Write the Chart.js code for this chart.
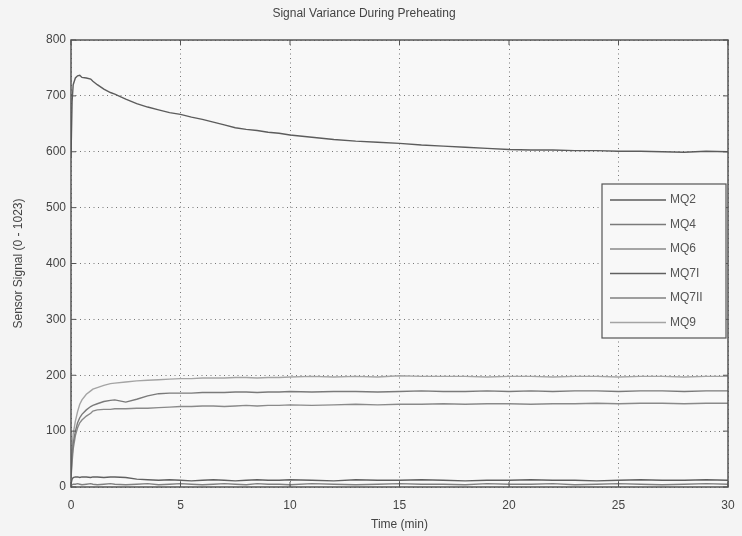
<!DOCTYPE html>
<html><head><meta charset="utf-8">
<script src="https://cdn.jsdelivr.net/npm/chart.js@4"></script>
<style>html,body{margin:0;padding:0;background:#f4f4f4;}#wrap{width:742px;height:536px;}</style>
</head><body><div id="wrap"><canvas id="c" width="742" height="536"></canvas></div>
<script>
const chartTitle = "Signal Variance During Preheating";
const xTitle = "Time (min)";
const yTitle = "Sensor Signal (0 - 1023)";
const seriesNames = ["MQ2","MQ4","MQ6","MQ7I","MQ7II","MQ9"];
const xTicks = [0,5,10,15,20,25,30];
const yTicks = [0,100,200,300,400,500,600,700,800];
const times = [0,0.05,0.1,0.2,0.3,0.4,0.5,0.7,0.9,1.0,1.2,1.5,1.8,2,2.5,3,3.5,4,4.5,5,5.5,6,6.5,7,7.5,8,8.5,9,9.5,10,11,12,13,14,15,16,17,18,19,20,21,22,23,24,25,26,27,28,29,30];
const mq2 = [590,690,720,732,736,737,733,732,730,726,720,712,706,703,694,686,680,675,670,667,662,658,653,648,643,640,638,635,633,630,626,622,619,617,615,612,610,608,606,604,603,603,602,602,601,601,600,599,601,600];
const mq4 = [20,55,78,100,115,124,130,138,144,146,149,153,155,156,152,157,163,167,168,168,168,169,169,169,170,170,169,170,170,171,170,171,171,170,171,172,171,171,172,171,172,171,172,172,171,172,172,171,172,172];
const mq6 = [15,45,68,92,106,115,120,127,132,136,138,139,139,140,140,141,141,142,143,144,144,145,145,144,145,146,145,146,146,147,146,147,148,147,148,148,149,148,149,149,148,149,149,150,149,150,150,149,150,150];
const mq7i = [5,14,17,18,18,17,18,18,17,18,18,17,18,18,17,14,13,12,13,12,11,12,13,12,11,12,13,12,12,13,12,11,13,12,12,13,12,11,12,12,13,12,12,11,12,13,12,12,13,12];
const mq7ii = [2,4,5,5,6,5,4,5,6,5,4,5,6,5,4,5,6,4,5,6,5,4,5,6,5,4,6,5,5,4,6,5,4,5,6,5,5,4,6,5,5,6,4,5,6,5,4,5,6,5];
const mq9 = [30,70,95,118,135,148,156,166,172,175,178,182,185,186,188,190,191,192,193,194,194,195,195,195,196,196,195,196,196,197,198,197,198,197,199,198,198,198,197,198,198,197,198,198,197,198,198,197,198,198];
const seriesValues = [mq2,mq4,mq6,mq7i,mq7ii,mq9];
const seriesColors = ["#5c5c5c","#7a7a7a","#8a8a8a","#606060","#808080","#a4a4a4"];

const FONT = "'Liberation Sans', Arial, sans-serif";

const frame = {
  id:'frame',
  beforeDraw(chart){
    const {ctx, chartArea:a} = chart;
    ctx.save();
    ctx.fillStyle = '#f4f4f4';
    ctx.fillRect(0,0,chart.width,chart.height);
    ctx.fillStyle = '#f8f8f8';
    ctx.fillRect(a.left,a.top,a.right-a.left,a.bottom-a.top);
    ctx.restore();
  },
  afterDatasetsDraw(chart){
    const {ctx, chartArea:a, scales} = chart;
    ctx.save();
    ctx.strokeStyle = '#555';
    ctx.lineWidth = 1.5;
    ctx.strokeRect(a.left,a.top,a.right-a.left,a.bottom-a.top);
    ctx.lineWidth = 1;
    ctx.beginPath();
    scales.x.ticks.forEach(t=>{
      const px = scales.x.getPixelForValue(t.value);
      ctx.moveTo(px,a.bottom); ctx.lineTo(px,a.bottom-5);
      ctx.moveTo(px,a.top); ctx.lineTo(px,a.top+5);
    });
    scales.y.ticks.forEach(t=>{
      const py = scales.y.getPixelForValue(t.value);
      ctx.moveTo(a.left,py); ctx.lineTo(a.left+5,py);
      ctx.moveTo(a.right,py); ctx.lineTo(a.right-5,py);
    });
    ctx.stroke();
    const bx = 602, by = 184, bw = 124, bh = 154;
    ctx.fillStyle = '#f8f8f8';
    ctx.fillRect(bx,by,bw,bh);
    ctx.strokeStyle = '#555';
    ctx.lineWidth = 1.2;
    ctx.strokeRect(bx,by,bw,bh);
    ctx.font = "12px " + FONT;
    ctx.textBaseline = 'middle';
    ctx.textAlign = 'left';
    chart.data.datasets.forEach((ds,i)=>{
      const y = by + 16 + i*24.5;
      ctx.strokeStyle = ds.borderColor;
      ctx.lineWidth = 1.3;
      ctx.beginPath(); ctx.moveTo(bx+8,y); ctx.lineTo(bx+64,y); ctx.stroke();
      ctx.fillStyle = '#555';
      ctx.fillText(ds.label, bx+68, y);
    });
    ctx.restore();
  }
};

new Chart(document.getElementById('c'), {
  type:'line',
  data:{
    datasets: seriesNames.map((n,i)=>({
      label:n,
      data: times.map((t,j)=>({x:t,y:seriesValues[i][j]})),
      borderColor: seriesColors[i],
      borderWidth: 1.4,
      pointRadius:0,
      tension:0,
      fill:false
    }))
  },
  options:{
    responsive:false,
    animation:false,
    layout:{padding:{left:0,right:14,top:0,bottom:0}},
    plugins:{
      legend:{display:false},
      tooltip:{enabled:false},
      title:{display:true,text:chartTitle,color:'#444',font:{family:FONT,size:12,weight:'normal'},padding:{top:6,bottom:19.6}}
    },
    scales:{
      x:{
        type:'linear',min:0,max:30,
        afterBuildTicks(s){ s.ticks = xTicks.map(v=>({value:v})); },
        afterFit(s){ s.height = 49; s.paddingRight = 0; s.paddingLeft = 0; },
        grid:{color:'#777',lineWidth:1,drawTicks:false},
        border:{display:false,dash:[1,3.5]},
        ticks:{color:'#444',font:{family:FONT,size:12},padding:11,maxRotation:0},
        title:{display:true,text:xTitle,color:'#444',font:{family:FONT,size:12},padding:{top:0,bottom:4}}
      },
      y:{
        type:'linear',min:0,max:800,
        afterBuildTicks(s){ s.ticks = yTicks.map(v=>({value:v})); },
        afterFit(s){ s.width = 71; s.paddingTop = 0; s.paddingBottom = 0; },
        grid:{color:'#777',lineWidth:1,drawTicks:false},
        border:{display:false,dash:[1,3.5]},
        ticks:{color:'#444',font:{family:FONT,size:12},padding:5},
        title:{display:true,text:yTitle,color:'#444',font:{family:FONT,size:12},padding:{top:11,bottom:4}}
      }
    }
  },
  plugins:[frame]
});
</script></body></html>
